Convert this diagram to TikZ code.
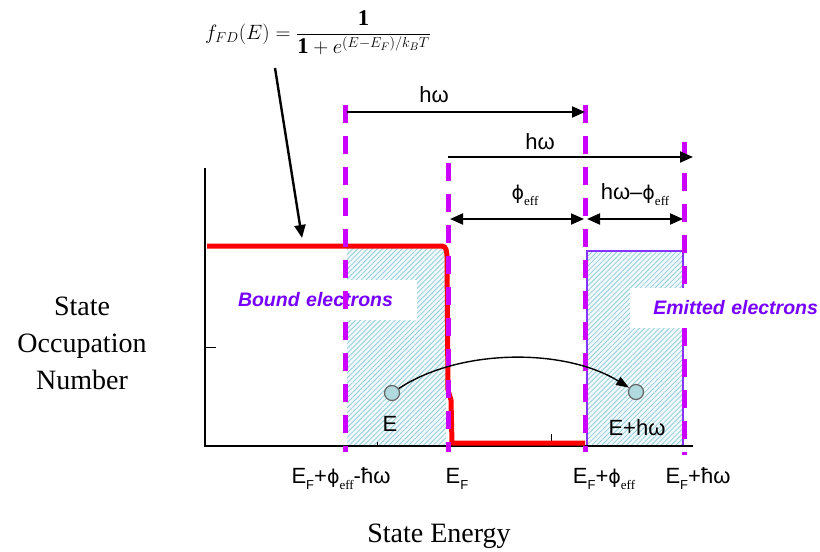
\documentclass[tikz,border=0pt]{standalone}
\usepackage{fontspec}
\setmainfont{Liberation Serif}
\newfontfamily\arial{Liberation Sans}
\newfontfamily\dejavu{DejaVu Sans}
\usetikzlibrary{arrows.meta,patterns.meta}
\definecolor{mag}{RGB}{204,0,255}
\definecolor{vio}{RGB}{120,0,255}
\definecolor{boxline}{RGB}{135,50,255}
\definecolor{hatchc}{RGB}{150,205,218}
\definecolor{hatchbg}{RGB}{240,249,251}
\definecolor{dotc}{RGB}{176,218,222}
\newcommand\lowsub[1]{\raisebox{-0.28em}{\fontsize{13}{13}\selectfont #1}}
\newcommand\phieffS{{\dejavu\fontsize{19}{22}\selectfont ϕ}\lowsub{\rmfamily eff}}
\tikzset{
  dimarrow/.style={line width=2pt,-{Triangle[length=13pt,width=11pt]}},
  dimboth/.style={line width=2pt,{Triangle[length=13pt,width=11pt]}-{Triangle[length=13pt,width=11pt]}},
  curvearrow/.style={line width=1.4pt,-{Triangle[length=13pt,width=9pt]}},
  magdash/.style={mag,line width=5pt,dash pattern=on 18pt off 13pt},
  lbl/.style={font=\arial\fontsize{22}{26}\selectfont, inner sep=0pt},
  axlbl/.style={font=\arial\fontsize{22}{26}\selectfont, inner sep=0pt, anchor=base},
  region/.style={font=\arial\bfseries\itshape\fontsize{19.5}{22}\selectfont, text=vio, fill=white, minimum height=40pt, inner xsep=1pt},
  hatchbox/.style={preaction={fill=hatchbg}, pattern={Lines[angle=45,distance=3.5pt,line width=0.8pt]}, pattern color=hatchc},
  dot/.style={circle, fill=dotc, draw=black!60, line width=1.2pt, minimum size=15pt, inner sep=0pt},
  serifbig/.style={font=\fontsize{28}{37}\selectfont, align=center, inner sep=0pt}
}
\begin{document}
\begin{tikzpicture}[x=1pt,y=-1pt]
\useasboundingbox (0,0) rectangle (820,552);
\fill[white] (0,0) rectangle (820,552);

% hatched regions
\fill[hatchbox] (347,248) rectangle (446,446);
\fill[hatchbox] (587,251) rectangle (683,446);
\draw[boxline, line width=2pt] (587,251) rectangle (683,446);

% white box behind bound electrons
\node[region, text width=178pt, align=left] (bound) at (327,300) {Bound electrons};

% axes
\draw[line width=1.2pt] (205,168) -- (205,446) -- (693,446);
\draw[line width=1pt] (205,347) -- (216,347);
\draw[line width=1pt] (377,446) -- (377,442);
\draw[line width=1pt] (551,446) -- (551,434);

% Fermi-Dirac curve
\draw[red, line width=5pt, line join=round] (207,246) -- (442,246) to[out=0,in=95] (447,256) -- (448,390) -- (451,400) -- (452,443) -- (585,443);

% dashed lines
\coordinate (l1t) at (345,105); \coordinate (l1b) at (345,452);
\coordinate (l2t) at (448,163); \coordinate (l2b) at (448,452);
\coordinate (l3t) at (585,105); \coordinate (l3b) at (585,452);
\coordinate (l4t) at (684,142); \coordinate (l4b) at (684,455);
\draw[magdash] (l1t) -- (l1b);
\draw[magdash] (l2t) -- (l2b);
\draw[magdash] (l3t) -- (l3b);
\draw[magdash] (l4t) -- (l4b);

% white box behind emitted electrons
\node[region, text width=186pt, align=right, inner xsep=2pt] (emit) at (725,307.5) {Emitted electrons};

% dimension arrows
\coordinate (a1s) at (347,112); \coordinate (a1e) at (585,112);
\coordinate (a2s) at (448,157); \coordinate (a2e) at (693,157);
\coordinate (a3s) at (450,219); \coordinate (a3e) at (584,219);
\coordinate (a4s) at (587,219); \coordinate (a4e) at (683,219);
\draw[dimarrow] (a1s) -- (a1e);
\draw[dimarrow] (a2s) -- (a2e);
\draw[dimboth] (a3s) -- (a3e);
\draw[dimboth] (a4s) -- (a4e);
\node[lbl] (hw1) at (434,95) {hω};
\node[lbl] (hw2) at (540,142) {hω};
\node[lbl] (pe) at (525,195) {\phieffS};
\node[lbl] (hwpe) at (635,195) {hω–\phieffS};

% electrons
\node[dot] (cE) at (392,393) {};
\node[dot] (cEh) at (636,392) {};
\draw[curvearrow] (cE) .. controls (460,348) and (565,348) .. (cEh);
\node[lbl] (lE) at (390,424) {E};
\node[lbl] (lEh) at (637,428) {E+hω};

% formula and its arrow
\node[inner sep=0pt, font=\fontsize{22.5}{26}\selectfont] (fd) at (318,33) {$\displaystyle f_{FD}(E)=\frac{\mathbf{1}}{\mathbf{1}+e^{(E-E_F)/k_BT}}$};
\coordinate (fstart) at (275,68);
\coordinate (ftip) at (302,238);
\draw[dimarrow, line width=2.4pt] (fstart) -- (ftip);

% axis labels
\node[axlbl] (x1) at (341,483) {E\lowsub{F}+\phieffS-ħω};
\node[axlbl] (x2) at (457,483) {E\lowsub{F}};
\node[axlbl] (x3) at (604,483) {E\lowsub{F}+\phieffS};
\node[axlbl] (x4) at (698,483) {E\lowsub{F}+ħω};
\node[serifbig, anchor=base] (xt) at (439,542) {State Energy};
\node[serifbig] (yt) at (82,343) {State\\Occupation\\Number};
\end{tikzpicture}
\end{document}
